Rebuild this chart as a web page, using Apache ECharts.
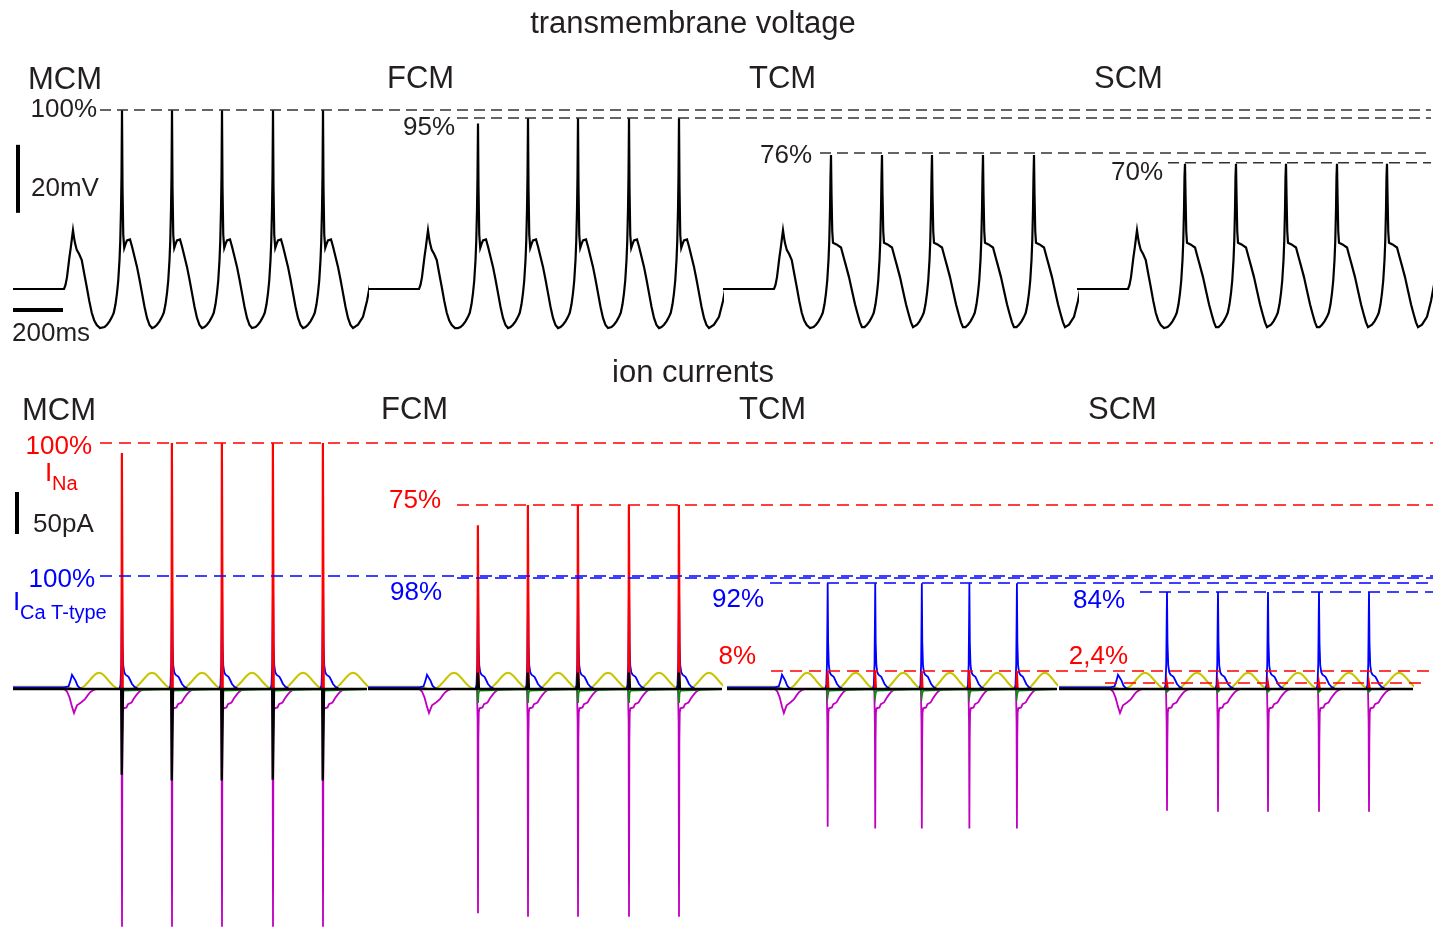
<!DOCTYPE html>
<html><head><meta charset="utf-8">
<script src="https://cdn.jsdelivr.net/npm/echarts@6/dist/echarts.min.js"></script>
<style>html,body{margin:0;padding:0;background:#fff}#c{width:1441px;height:928px}</style>
</head><body><div id="c"></div>
<script>
// ================= DATA =================
const cells = ['MCM', 'FCM', 'TCM', 'SCM'];
const cellEndMs = 1416;                 // length of each cell's recording (ms)

// spike times (ms from start of each cell's trace)
const spikeMsMCM = [436, 636, 836, 1040, 1240];
const spikeMsFCM = [440, 640, 840, 1044, 1244];
const spikeMsTCM = [432, 636, 836, 1040, 1244];
const spikeMsSCM = [432, 636, 836, 1040, 1240];

// ---- transmembrane voltage (mV) ----
const vPeakMCM = [-7.35, -7.35, -7.35, -7.35, -7.35];
const vPeakFCM = [-11.3, -9.7, -9.7, -9.7, -9.7];
const vPeakTCM = [-20.6, -20.6, -20.6, -20.6, -20.6];
const vPeakSCM = [-23.2, -23.2, -23.2, -23.2, -23.2];
// resting part + first sub-threshold bump
const vHeadT = [0, 204, 210, 216, 221, 226, 231, 236, 240, 244, 248, 255, 265, 275, 285, 295, 305, 315, 325, 335, 348];
const vHeadV = [-60, -60, -58.8, -56.5, -53.5, -50.5, -47.9, -45, -42.7, -44.8, -46.5, -48.5, -49.8, -51.5, -55.5, -59.4, -63.5, -67, -69.3, -70.6, -71.5];
// upstroke before a spike (ms relative to the spike)
const riseT = [-80, -70, -60, -50, -40, -33, -26, -20, -15, -10, -7, -4, -2];
const riseV = [-71.5, -71.2, -70.5, -69.5, -68.2, -67, -64.5, -61.2, -57.5, -51.5, -46, -36.8, -27];
// repolarisation after the spike, with hump (MCM, FCM)
const fallAT = [2, 5, 9, 14, 20, 26, 32, 40, 50, 60, 70, 80, 90, 100, 110, 120];
const fallAV = [-30, -44, -47.9, -46.8, -45.7, -45.2, -45.4, -47.5, -50.5, -53.5, -57.2, -61.2, -65.2, -68.5, -70.6, -71.5];
// repolarisation after the spike, with shoulder (TCM, SCM)
const fallBT = [2, 5, 8, 14, 22, 30, 40, 50, 60, 72, 84, 96, 107, 116, 124];
const fallBV = [-32, -43, -46.4, -46.6, -46.9, -47.2, -47.8, -50.5, -53.2, -56.5, -60.5, -64.5, -67.5, -69.8, -71.2];
// after the last spike
const vTailT = [140, 160, 176, 190];
const vTailV = [-70.5, -68.2, -63.5, -58];

// voltage reference levels
const vRefLabel = ['100%', '95%', '76%', '70%'];
const vRefMv = [-7.35, -9.7, -20, -22.9];
const vRefStartMs = [348, 1776, 3228, 4620];
const vRefEndMs = 5672;

// ---- ion currents (pA) ----
const naPeakMCM = [281, 293, 293, 293, 293];
const naPeakFCM = [195, 219, 219, 219, 219];
const naPeakTCM = [21.4, 21.4, 21.4, 21.4, 21.4];
const naPeakSCM = [7.1, 7.1, 7.1, 7.1, 7.1];
const caPeakMCM = [134.5, 134.5, 134.5, 134.5, 134.5];
const caPeakFCM = [132, 132, 132, 132, 132];
const caPeakTCM = [126, 126, 126, 126, 126];
const caPeakSCM = [115.5, 115.5, 115.5, 115.5, 115.5];
const mgPeakMCM = [-283, -283, -283, -283, -283];
const mgPeakFCM = [-267, -271, -271, -271, -271];
const mgPeakTCM = [-164, -166, -166, -166, -166];
const mgPeakSCM = [-145, -146, -146, -146, -146];
const bkPeakMCM = [-102, -109, -109, -108, -109];
const bkPeakFCM = [19.4, 19.4, 19.4, 19.4, 19.4];
const bkPeakTCM = [0, 0, 0, 0, 0];
const bkPeakSCM = [0, 0, 0, 0, 0];
const gnPeakMCM = [-10, -10, -10, -10, -10];
const gnPeakFCM = [-16.7, -16.7, -16.7, -16.7, -16.7];
const gnPeakTCM = [-9, -9, -9, -9, -9];
const gnPeakSCM = [-6, -6, -6, -6, -6];

// shapes around each spike (ms relative to spike; null = the spike's peak)
const naT = [-2, -0.5, 1.5, 3];                 const naV = [0, null, null, 0];
const caT = [-10, -6, -3, -1, 0, 2, 5, 9, 14, 20, 26, 32, 40, 50, 62, 72];
const caV = [0, 5, 30, 90, null, 55, 28, 20, 17, 16, 14.5, 11, 6, 2.5, 0.5, 0];
const mgT = [-4, -1.5, 0, 1.5, 3, 6, 12, 18, 24, 30, 38, 48, 58, 68, 80, 92];
const mgV = [0, -40, null, -60, -28, -23, -22.6, -22, -18, -17, -16, -11, -7, -3.5, -1, 0];
const bkT = [-3, -1, 2, 4];                     const bkV = [0, null, null, 0];
const gnT = [-5, -2, 0, 2, 6, 10];              const gnV = [0, -4, null, -5, -2, 0];
const ylT = [40, 52, 64, 76, 88, 100, 110, 120, 130, 140, 152, 164, 176, 188, 200];
const ylV = [0, 1.5, 4.2, 8, 12.2, 16, 18.5, 19.4, 18.5, 16, 12.2, 8, 4.2, 1.5, 0];
// beginning of each current trace (before the first spike)
const caHeadT = [0, 206, 212, 222, 230, 236, 240, 244, 250, 258, 268, 280];
const caHeadV = [2, 2, 0, 3, 10, 17, 19, 17, 10, 4, 1, 0];
const mgHeadT = [0, 206, 216, 226, 236, 244, 250, 256, 262, 272, 288, 300, 310, 322, 336];
const mgHeadV = [0, 0, -3, -10, -21, -28.6, -24, -19.5, -18.5, -16, -12, -7, -3.6, -1.2, 0];
const ylHeadT = [0, 216, 236, 264, 276, 288, 300, 312, 324, 334, 344, 354, 364, 376, 388, 400, 412, 424];
const ylHeadV = [2.7, 2.7, 0.3, 0, 1.5, 4.2, 8, 12.2, 16, 18.5, 19.4, 18.5, 16, 12.2, 8, 4.2, 1.5, 0];
const zeroHeadT = [0];
const zeroHeadV = [0];

// current reference levels
const naRefLabel = ['100%', '75%', '8%', '2,4%'];
const naRefPa = [292.9, 219, 21.4, 7.1];
const naRefStartMs = [348, 1776, 3032, 4368];
const naRefEndMs = [5680, 5680, 5680, 5648];
const caRefLabel = ['100%', '98%', '92%', '84%'];
const caRefPa = [134.5, 132.1, 126.2, 115.5];
const caRefStartMs = [348, 1776, 3028, 4508];
const caRefEndMs = [5680, 5680, 5680, 5680];

// scale bars
const barMvT = [20, 20];   const barMvV = [-37.6, -17.6];   // 20 mV
const barMsT = [0, 200];   const barMsV = [-66.2, -66.2];   // 200 ms
const barPaT = [16, 16];   const barPaV = [184.5, 234.5];   // 50 pA

// ================= BUILD =================
const S = {
  MCM: {sp: spikeMsMCM, v: vPeakMCM, fall: 'A', na: naPeakMCM, ca: caPeakMCM, mg: mgPeakMCM, bk: bkPeakMCM, gn: gnPeakMCM},
  FCM: {sp: spikeMsFCM, v: vPeakFCM, fall: 'A', na: naPeakFCM, ca: caPeakFCM, mg: mgPeakFCM, bk: bkPeakFCM, gn: gnPeakFCM},
  TCM: {sp: spikeMsTCM, v: vPeakTCM, fall: 'B', na: naPeakTCM, ca: caPeakTCM, mg: mgPeakTCM, bk: bkPeakTCM, gn: gnPeakTCM},
  SCM: {sp: spikeMsSCM, v: vPeakSCM, fall: 'B', na: naPeakSCM, ca: caPeakSCM, mg: mgPeakSCM, bk: bkPeakSCM, gn: gnPeakSCM}
};

function chain(headT, headV, spikes, peaks, tT, tV, tailT, tailV) {
  const pts = headT.map((t, i) => [t, headV[i]]);
  spikes.forEach((s, k) => {
    tT.forEach((dt, j) => {
      const t = s + dt;
      if (t <= pts[pts.length - 1][0]) return;
      pts.push([t, tV[j] === null ? peaks[k] : tV[j]]);
    });
  });
  if (tailT) {
    const s = spikes[spikes.length - 1];
    tailT.forEach((dt, j) => { const t = s + dt; if (t > pts[pts.length - 1][0]) pts.push([t, tailV[j]]); });
  }
  const last = pts[pts.length - 1];
  if (last[0] < cellEndMs) pts.push([cellEndMs, last[1]]);
  return pts;
}

const topLeft = [13, 368, 723, 1077];
const botLeft = [13, 368, 727, 1059];
const botWidth = [354, 354, 330, 354];
const TOP = {top: 102, height: 238, min: -75, max: -5};
const BOT = {top: 437, height: 495.6, min: -290, max: 300};

const grid = [], xAxis = [], yAxis = [], series = [];
function addGrid(left, width, P, xmax) {
  grid.push({left: left, top: P.top, width: width, height: P.height, containLabel: false, outerBoundsMode: 'none'});
  const i = grid.length - 1;
  xAxis.push({gridIndex: i, type: 'value', min: 0, max: xmax, show: false});
  yAxis.push({gridIndex: i, type: 'value', min: P.min, max: P.max, show: false});
  return i;
}
function line(gi, data, color, width, extra) {
  series.push(Object.assign({
    type: 'line', xAxisIndex: gi, yAxisIndex: gi, data: data, symbol: 'none', showSymbol: false,
    silent: true, animation: false, clip: true,
    lineStyle: {color: color, width: width, cap: 'butt', join: 'miter'}
  }, extra || {}));
}

const RED = '#ff0000', BLUE = '#0000ff', MAG = '#c000c0', YEL = '#c8c400', GRN = '#108a10', BLK = '#000000';

cells.forEach((c, i) => {
  const d = S[c];
  const gi = addGrid(topLeft[i], 354, TOP, cellEndMs);
  const beatT = riseT.concat([0], d.fall === 'A' ? fallAT : fallBT);
  const beatV = riseV.concat([null], d.fall === 'A' ? fallAV : fallBV);
  line(gi, chain(vHeadT, vHeadV, d.sp, d.v, beatT, beatV, vTailT, vTailV), BLK, 2.2);
  if (i === 0) {
    line(gi, barMvT.map((t, k) => [t, barMvV[k]]), BLK, 4);
    line(gi, barMsT.map((t, k) => [t, barMsV[k]]), BLK, 4);
  }
});
cells.forEach((c, i) => {
  const d = S[c];
  const gi = addGrid(botLeft[i], botWidth[i], BOT, cellEndMs);
  line(gi, chain(mgHeadT, mgHeadV, d.sp, d.mg, mgT, mgV), MAG, 1.8);
  line(gi, chain(ylHeadT, ylHeadV, d.sp, [], ylT, ylV), YEL, 2);
  line(gi, chain(caHeadT, caHeadV, d.sp, d.ca, caT, caV), BLUE, 1.8);
  line(gi, chain(zeroHeadT, zeroHeadV, d.sp, d.na, naT, naV), RED, 2.2);
  line(gi, chain(zeroHeadT, zeroHeadV, d.sp, d.gn, gnT, gnV), GRN, 1.8);
  line(gi, chain(zeroHeadT, zeroHeadV, d.sp, d.bk, bkT, bkV), BLK, 2.4);
  if (i === 0) line(gi, barPaT.map((t, k) => [t, barPaV[k]]), BLK, 4);
});
// reference (dashed) lines
const gTopRef = addGrid(13, 1428, TOP, 5712);
vRefMv.forEach((v, k) => line(gTopRef, [[vRefStartMs[k], v], [vRefEndMs, v]], '#333333', 1.5,
  {lineStyle: {color: '#333333', width: 1.5, type: [11, 6]}, clip: false}));
const gBotRef = addGrid(13, 1428, BOT, 5712);
naRefPa.forEach((v, k) => line(gBotRef, [[naRefStartMs[k], v], [naRefEndMs[k], v]], RED, 1.5,
  {lineStyle: {color: RED, width: 1.5, type: [12, 7]}, clip: false}));
caRefPa.forEach((v, k) => line(gBotRef, [[caRefStartMs[k], v], [caRefEndMs[k], v]], BLUE, 1.5,
  {lineStyle: {color: BLUE, width: 1.5, type: [12, 7]}, clip: false}));

// ================= TEXT =================
const FF = '"Liberation Sans", Arial, sans-serif';
const TXT = '#231f20';
function txt(s, x, y, size, color, align) {
  return {type: 'text', x: x, y: y + 2, silent: true, z: 100,
    style: {text: s, font: size + 'px ' + FF, fill: color || TXT, align: align || 'left', verticalAlign: 'middle'}};
}
const graphic = [
  txt('transmembrane voltage', 693, 22, 31, TXT, 'center'),
  txt(cells[0], 28, 78, 31), txt(cells[1], 387, 77, 31), txt(cells[2], 749, 77, 31), txt(cells[3], 1094, 77, 31),
  txt(vRefLabel[0], 97, 108, 26, TXT, 'right'),
  txt(vRefLabel[1], 455, 126, 26, TXT, 'right'),
  txt(vRefLabel[2], 812, 154, 26, TXT, 'right'),
  txt(vRefLabel[3], 1163, 171, 26, TXT, 'right'),
  txt('20mV', 31, 187, 26), txt('200ms', 12, 332, 26),
  txt('ion currents', 693, 371, 31, TXT, 'center'),
  txt(cells[0], 22, 409, 31), txt(cells[1], 381, 408, 31), txt(cells[2], 739, 408, 31), txt(cells[3], 1088, 408, 31),
  txt(naRefLabel[0], 92, 445, 26, RED, 'right'),
  txt('I', 45, 472, 26, RED), txt('Na', 52, 482, 20, RED),
  txt('50pA', 33, 523, 26),
  txt(caRefLabel[0], 95, 578, 26, BLUE, 'right'),
  txt('I', 13, 601, 26, BLUE), txt('Ca T-type', 20, 611, 20, BLUE),
  txt(naRefLabel[1], 441, 499, 26, RED, 'right'),
  txt(caRefLabel[1], 442, 591, 26, BLUE, 'right'),
  txt(caRefLabel[2], 764, 598, 26, BLUE, 'right'),
  txt(naRefLabel[2], 756, 655, 26, RED, 'right'),
  txt(caRefLabel[3], 1125, 599, 26, BLUE, 'right'),
  txt(naRefLabel[3], 1128, 655, 26, RED, 'right')
];

const chart = echarts.init(document.getElementById('c'), null, {renderer: 'canvas'});
chart.setOption({animation: false, backgroundColor: '#ffffff', grid: grid, xAxis: xAxis, yAxis: yAxis, series: series, graphic: graphic, tooltip: {show: false}});
</script>
</body></html>
